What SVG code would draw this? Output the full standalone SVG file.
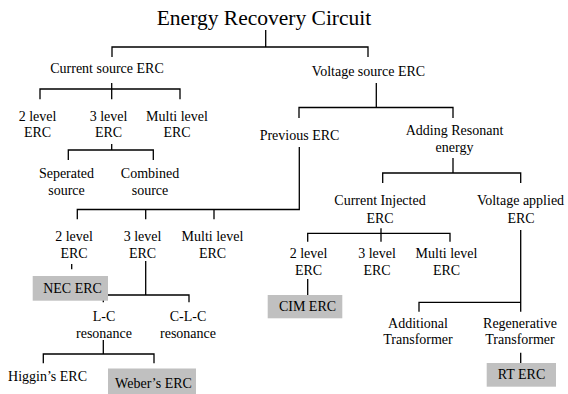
<svg xmlns="http://www.w3.org/2000/svg" width="568" height="394" viewBox="0 0 568 394" font-family="'Liberation Serif', 'Times New Roman', serif" font-size="14" text-anchor="middle">
<style>
.title{font-size:21.5px}
.box{fill:#c0c0c0;stroke:none}
#connectors path{fill:none;stroke:#000;stroke-width:1.3}
</style>
<rect width="568" height="394" fill="#fff"/>
<g id="connectors">
<path d="M265.7 30V47M112 57V47H368V57"/>
<path d="M111.7 83V99.3M40 99.3V89H180V99.3"/>
<path d="M111.7 144V150M68.3 160V150H153.3V160"/>
<path d="M376.3 83V107.5M299 118V107.5H453V118"/>
<path d="M453 158V173M382.7 183V173H520.7V183"/>
<path d="M299.3 147V209.5H77.3V219.3M145.7 209.5V219.3M214 209.5V219.3"/>
<path d="M71.7 264V269.3"/>
<path d="M145.7 261V295M103.3 302.3V295H189V302.3"/>
<path d="M103.3 340V354M43.3 363.3V354H154V363.3"/>
<path d="M381 228.3V241.7M307.7 241.7V233.3H450V241.7"/>
<path d="M307.7 279V295"/>
<path d="M520.7 230V311.7M419 311.7V302.3H520.7"/>
<path d="M520.7 352.7V363"/>
</g>
<g id="root"><text class="title" x="264" y="25">Energy Recovery Circuit</text></g>
<g id="current-source"><text x="107" y="72.5">Current source ERC</text></g>
<g id="voltage-source"><text x="368.5" y="76">Voltage source ERC</text></g>
<g id="cs-2level"><text x="37.5" y="120.5">2 level</text><text x="37.5" y="137">ERC</text></g>
<g id="cs-3level"><text x="108.5" y="120.5">3 level</text><text x="108.5" y="137">ERC</text></g>
<g id="cs-multi"><text x="177" y="120.5">Multi level</text><text x="177" y="137">ERC</text></g>
<g id="separated"><text x="66.5" y="178">Seperated</text><text x="66.5" y="195">source</text></g>
<g id="combined"><text x="150" y="178">Combined</text><text x="150" y="195">source</text></g>
<g id="previous"><text x="299.5" y="139.5">Previous ERC</text></g>
<g id="adding"><text x="454.5" y="134.5">Adding Resonant</text><text x="454.5" y="151.5">energy</text></g>
<g id="pv-2level"><text x="74" y="240.5">2 level</text><text x="74" y="257.5">ERC</text></g>
<g id="pv-3level"><text x="142.5" y="240.5">3 level</text><text x="142.5" y="257.5">ERC</text></g>
<g id="pv-multi"><text x="212.5" y="240.5">Multi level</text><text x="212.5" y="257.5">ERC</text></g>
<g id="nec"><rect class="box" x="32.7" y="276" width="75.3" height="24.7"/><text x="72.5" y="293.3">NEC ERC</text></g>
<g id="lc"><text x="104" y="320.5">L-C</text><text x="104" y="337.5">resonance</text></g>
<g id="clc"><text x="188" y="320.5">C-L-C</text><text x="188" y="337.5">resonance</text></g>
<g id="higgin"><text x="47.5" y="380.5">Higgin’s ERC</text></g>
<g id="weber"><rect class="box" x="108" y="368.5" width="88" height="25.5"/><text x="153.5" y="388">Weber’s ERC</text></g>
<g id="current-injected"><text x="380" y="205">Current Injected</text><text x="380" y="222.5">ERC</text></g>
<g id="voltage-applied"><text x="520.5" y="205">Voltage applied</text><text x="521" y="222.5">ERC</text></g>
<g id="ci-2level"><text x="308.5" y="257.5">2 level</text><text x="308.5" y="274.5">ERC</text></g>
<g id="ci-3level"><text x="377" y="257.5">3 level</text><text x="377" y="274.5">ERC</text></g>
<g id="ci-multi"><text x="446.5" y="257.5">Multi level</text><text x="446.5" y="274.5">ERC</text></g>
<g id="cim"><rect class="box" x="267.7" y="295" width="74.6" height="23.3"/><text x="307.5" y="310.5">CIM ERC</text></g>
<g id="additional"><text x="418" y="327.5">Additional</text><text x="418" y="344">Transformer</text></g>
<g id="regenerative"><text x="520" y="327.5">Regenerative</text><text x="520" y="344">Transformer</text></g>
<g id="rt"><rect class="box" x="486.7" y="363" width="69.3" height="23.7"/><text x="521.5" y="379">RT ERC</text></g>
</svg>
